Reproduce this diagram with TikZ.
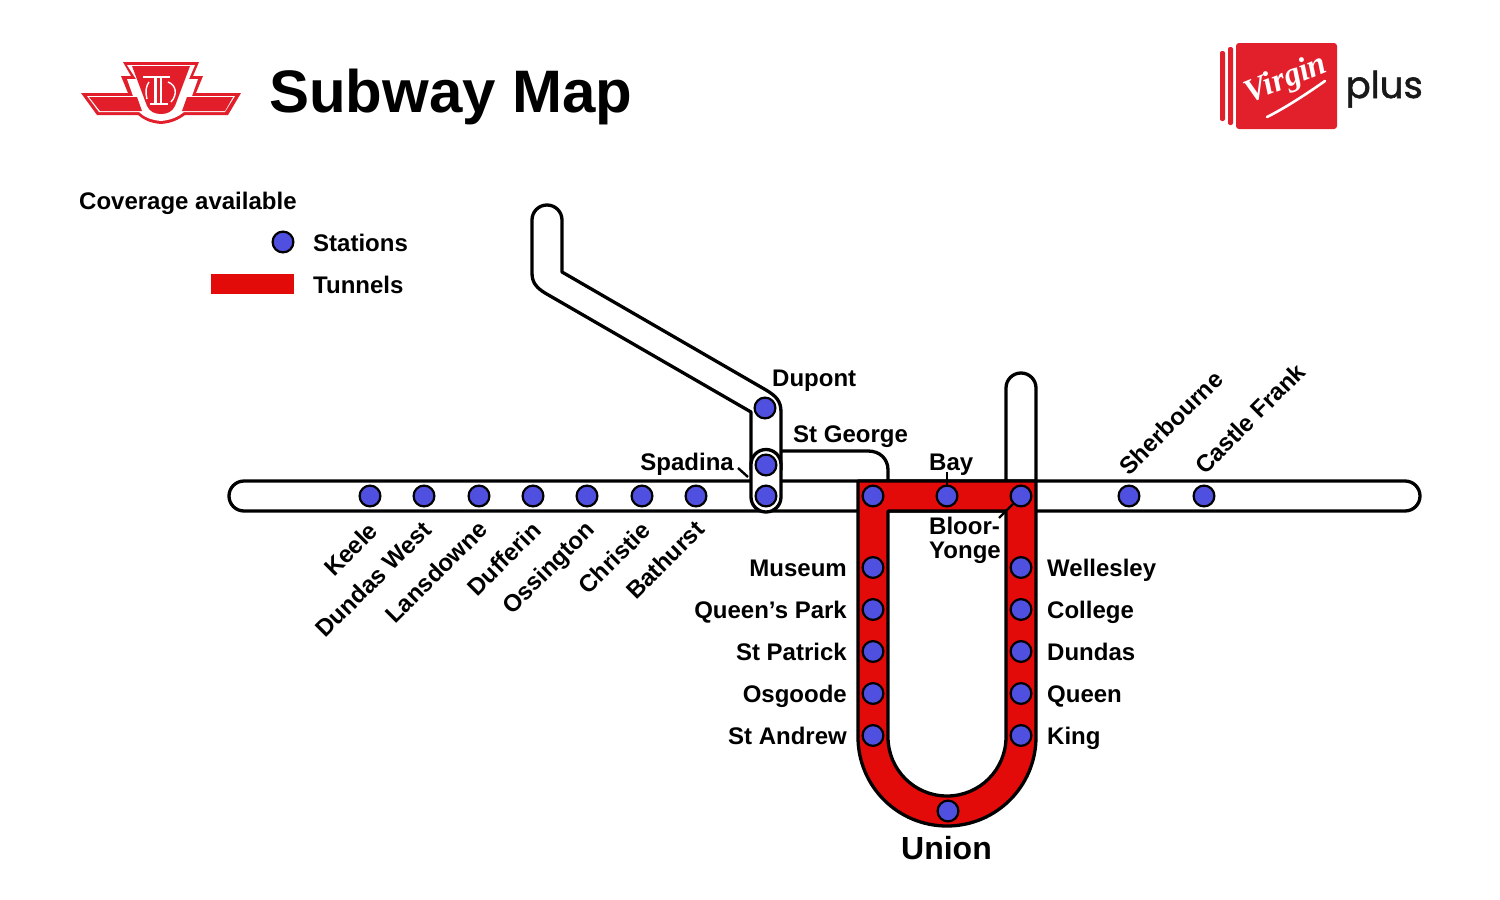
\documentclass[tikz,border=0pt]{standalone}
\usepackage{fontspec}
\setmainfont{Liberation Sans}
\newfontfamily\plusfont[FakeBold=1.6]{Poppins}
\newfontfamily\virginfont{Liberation Serif}
\definecolor{stn}{RGB}{80,80,224}
\definecolor{tun}{RGB}{227,10,10}
\definecolor{ttc}{RGB}{226,30,42}
\definecolor{vir}{RGB}{225,32,44}
\tikzset{
 tube/.style={draw=black,line width=3.3pt,line join=round},
 station/.style={circle,draw=black,fill=stn,line width=2.2pt,minimum size=20.8pt,inner sep=0pt},
 lab/.style={font=\bfseries\fontsize{24}{24}\selectfont,inner sep=0pt,text=black},
 labe/.style={lab,anchor=base east},
 labw/.style={lab,anchor=base west},
 diag/.style={lab,anchor=east,rotate=45},
 tick/.style={draw=black,line width=2.4pt},
 wing/.style={fill=ttc,draw=none}
}
\begin{document}
\begin{tikzpicture}[x=1pt,y=-1pt]
\useasboundingbox (0,0) rectangle (1500,900);
\fill[white] (0,0) rectangle (1500,900);
% TTC logo
\fill[ttc] (123,62)--(199,62)--(193,76)--(203,76)--(196,93)--(241,93)--(228,115)--(185,115)
 .. controls (178,120) and (172,123) .. (161,124) .. controls (150,123) and (144,120) .. (138,115)
 --(97,115)--(81,93)--(128,93)--(121,76)--(131,76)--cycle;
\fill[white] (127,65)--(195,65)--(189,79)--(198,79)--(192,96)--(235,96)--(225,112)--(184,112)
 .. controls (178,117) and (171,120) .. (161,121) .. controls (151,120) and (144,117) .. (139,112)
 --(99,112)--(87,96)--(133,96)--(127,79)--(136,79)--cycle;
\fill[ttc] (132,66)--(190,66)--(175,106) .. controls (172,112) and (167,114) .. (161,114)
 .. controls (155,114) and (150,112) .. (147,106)--cycle;
\fill[wing] (89,97)--(137,97)--(142,111)--(100,111)--cycle;
\fill[wing] (187,97)--(233,97)--(225,111)--(182,111)--cycle;
\begin{scope}[white,line cap=butt]
\draw[line width=2.6pt] (143,77)--(170,77);
\draw[line width=2.6pt] (155.5,77)--(155.5,104);
\draw[line width=1.6pt] (161,77)--(161,104);
\draw[line width=1.8pt] (150,104)--(168,104);
\draw[line width=1.4pt] (149,82) .. controls (146,86) and (145,92) .. (147,99);
\draw[line width=1.4pt] (168,82) .. controls (176,85) and (178,94) .. (171,102);
\end{scope}
% Title
\node[anchor=base west,inner sep=0pt,font=\bfseries\fontsize{60}{60}\selectfont] (title) at (269,112) {Subway Map};
% Virgin logo
\fill[vir,rounded corners=2pt] (1220,51) rectangle (1225,121);
\fill[vir,rounded corners=2pt] (1228,47) rectangle (1233,125);
\fill[vir,rounded corners=3pt] (1236,43) rectangle (1337,129);
\node[rotate=22,inner sep=0pt,text=white,font=\virginfont\bfseries\itshape\fontsize{33}{33}\selectfont] (virgin) at (1286,80) {Virgin};
\coordinate (swa) at (1267,117);
\coordinate (swb) at (1325,81);
\draw[white,line width=2.6pt,line cap=round] (swa) .. controls (1285,108) and (1305,95) .. (swb);
\node[anchor=base west,inner sep=0pt,font=\plusfont\fontsize{37}{37}\selectfont,text=black!90] (plus) at (1345.5,98) {plus};
% Legend
\node[lab,anchor=base west] (cov) at (79,209) {Coverage available};
\node[station] (lgs) at (283,242) {};
\node[labw] (lgst) at (313,251) {Stations};
\fill[tun] (211,274) rectangle (294,294);
\node[labw] (lgtt) at (313,293) {Tunnels};
% Tubes
\draw[tube,rounded corners=15pt] (229,481) rectangle (1420,511);
\draw[tube] (751,470)--(751,412)--(545,293)
  .. controls (537,288) and (532,283) .. (532,273)--(532,220)
  .. controls (532,211.7) and (538.7,205) .. (547,205)
  .. controls (555.3,205) and (562,211.7) .. (562,220)--(562,272)--(766,390)
  .. controls (776,396) and (781,401) .. (781,412)--(781,470);
\draw[tube] (781,451)--(868,451) .. controls (880,451) and (888,459) .. (888,470)--(888,481);
\draw[tube] (1006,481)--(1006,388) .. controls (1006,379.7) and (1012.7,373) .. (1021,373)
  .. controls (1029.3,373) and (1036,379.7) .. (1036,388)--(1036,481);
\draw[tube,fill=white,rounded corners=15pt] (751,449.5) rectangle (781,512);
% Red U
\draw[tube,fill=tun,even odd rule] (858,481)--(1036,481)--(1036,737)
  .. controls (1036,786.2) and (996.2,826) .. (947,826)
  .. controls (897.8,826) and (858,786.2) .. (858,737)--cycle
  (888,511)--(1006,511)--(1006,737)
  .. controls (1006,769.6) and (979.6,796) .. (947,796)
  .. controls (914.4,796) and (888,769.6) .. (888,737)--cycle;
% Stations
\foreach \n/\x in {keele/370,dw/424,lans/479,duff/533,oss/587,chr/642,bath/696,stg/873,bay/947,by/1021,sher/1129,cf/1204}
  \node[station] (s\n) at (\x,496) {};
\node[station] (sdup) at (765,408) {};
\node[station] (sspa) at (766,465) {};
\node[station] (sbat2) at (766,496) {};
\foreach \n/\y in {a/567.5,b/609.5,c/651.5,d/693.5,e/735.5}{
  \node[station] (l\n) at (873,\y) {};
  \node[station] (r\n) at (1021,\y) {};
}
\node[station] (sun) at (948,811) {};
% Horizontal labels
\node[labe] (tmus) at (847,576) {Museum};
\node[labe] (tqp) at (847,618) {Queen’s Park};
\node[labe] (tsp) at (847,660) {St Patrick};
\node[labe] (tos) at (847,702) {Osgoode};
\node[labe] (tsa) at (847,744) {St Andrew};
\node[labw] (twe) at (1047,576) {Wellesley};
\node[labw] (tco) at (1047,618) {College};
\node[labw] (tdu) at (1047,660) {Dundas};
\node[labw] (tqu) at (1047,702) {Queen};
\node[labw] (tki) at (1047,744) {King};
\node[labw] (tdp) at (772,386) {Dupont};
\node[labw] (tsg) at (793,442) {St George};
\node[labe] (tsd) at (734,470) {Spadina};
\node[labw] (tba) at (929,470) {Bay};
\node[labw] (tbl) at (929,534) {Bloor-};
\node[labw] (tyo) at (929,558) {Yonge};
\node[anchor=base,inner sep=0pt,font=\bfseries\fontsize{32}{32}\selectfont] (tun) at (946.5,859) {Union};
% Diagonal labels
\node[diag] at (373.5,526.5) (d1) {Keele};
\node[diag] at (427,525.5) (d2) {Dundas West};
\node[diag] at (483,525) (d3) {Lansdowne};
\node[diag] at (536.5,526) (d4) {Dufferin};
\node[diag] at (592,527) (d5) {Ossington};
\node[diag] at (646,526) (d6) {Christie};
\node[diag] at (700,525) (d7) {Bathurst};
\node[diag] at (1218.5,375) (d8) {Sherbourne};
\node[diag] at (1301,367.5) (d9) {Castle Frank};
% Leader ticks
\coordinate (cspa) at (738,468);
\coordinate (cspb) at (748,477);
\coordinate (cbay) at (947,472);
\coordinate (cby) at (999,518);
\draw[tick] (cspa)--(cspb);
\draw[tick] (cbay)--(sbay.north);
\draw[tick] (cby)--(sby.south west);
\end{tikzpicture}
\end{document}
